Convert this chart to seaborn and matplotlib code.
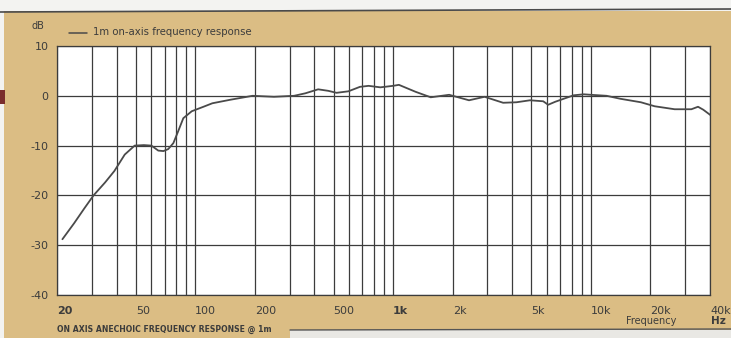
import matplotlib
matplotlib.use("Agg")
import matplotlib.pyplot as plt
from matplotlib.patches import Rectangle
from matplotlib.lines import Line2D
from matplotlib.ticker import FixedLocator, NullFormatter
import seaborn as sns
import pandas as pd
import numpy as np

# ---- data ----
freq_hz = [21.3, 24.4, 27.5, 30.6, 35, 39, 44, 49.4, 55, 60, 65, 69, 73, 77.5, 82, 87, 96,
           110, 122, 150, 195, 250, 316, 360, 418, 470, 518, 594, 680, 752, 862, 1000, 1070,
           1300, 1550, 1920, 2420, 2900, 3600, 4200, 4920, 5740, 6080, 6600, 7280, 8180,
           9200, 10000, 12000, 14100, 17900, 21000, 26500, 32200, 34800, 37000, 40600]
level_db = [-28.8, -25.6, -22.6, -20.0, -17.4, -15.1, -11.8, -10.0, -9.9, -10.0, -11.0, -11.1, -10.7, -9.5, -7.1, -4.5, -3.1,
            -2.2, -1.5, -0.8, 0.0, -0.2, 0.0, 0.5, 1.3, 1.0, 0.6, 0.9, 1.8, 2.0, 1.7, 2.0, 2.2,
            0.8, -0.3, 0.2, -0.9, -0.2, -1.4, -1.3, -0.9, -1.1, -1.8, -1.2, -0.6, 0.1,
            0.3, 0.2, 0.0, -0.6, -1.3, -2.1, -2.7, -2.7, -2.2, -2.8, -4.0]

x_tick_vals = [20, 50, 100, 200, 500, 1000, 2000, 5000, 10000, 20000, 40000]
x_tick_labels = ["20", "50", "100", "200", "500", "1k", "2k", "5k", "10k", "20k", "40k"]
y_tick_vals = [10, 0, -10, -20, -30, -40]
y_tick_labels = ["10", "0", "-10", "-20", "-30", "-40"]
series_label = "1m on-axis frequency response"

df = pd.DataFrame({"Frequency": freq_hz, "Level": level_db})

TAN = "#dbbd84"
INK = "#3c3c3c"

sns.set_style("white")
plt.rcParams["font.family"] = ["DejaVu Sans"]

W, H = 731, 338
fig = plt.figure(figsize=(W / 100, H / 100), dpi=100)
fig.patch.set_facecolor(TAN)

# scan-like border strips
fig.patches.append(Rectangle((0, 1 - 11 / H), 1, 11 / H, transform=fig.transFigure,
                             facecolor="#f3f3f1", edgecolor="none", zorder=0))
fig.lines.append(Line2D([0, 1], [1 - 12 / H, 1 - 9 / H], transform=fig.transFigure,
                        color="#4a4a4a", lw=1.2))
fig.patches.append(Rectangle((0, 0), 4 / W, 1, transform=fig.transFigure,
                             facecolor="#f3f3f1", edgecolor="none", zorder=0))
fig.patches.append(Rectangle((0, 1 - 104 / H), 5 / W, 14 / H, transform=fig.transFigure,
                             facecolor="#7a2d2d", edgecolor="none", zorder=1))
fig.patches.append(Rectangle((290 / W, 0), 1 - 290 / W, 8 / H, transform=fig.transFigure,
                             facecolor="#e9e8e4", edgecolor="none", zorder=0))
fig.lines.append(Line2D([290 / W, 1], [8 / H, 9 / H], transform=fig.transFigure,
                        color="#555555", lw=1.0))

ax = fig.add_axes([57 / W, 1 - 295 / H, (710 - 57) / W, (295 - 46) / H])
ax.set_facecolor("white")

sns.lineplot(data=df, x="Frequency", y="Level", ax=ax, color="#4a4a4a", lw=1.3,
             label=series_label, legend=False)

ax.set_xscale("log")
ax.set_xlim(20, 40000)
ax.set_ylim(-40, 10)

# grid
grid_f = []
for dec in [10, 100, 1000, 10000]:
    for d in range(1, 10):
        v = d * dec
        if 20 <= v <= 40000:
            grid_f.append(v)
ax.xaxis.set_minor_locator(FixedLocator(grid_f))
ax.xaxis.set_minor_formatter(NullFormatter())
ax.set_xticks(x_tick_vals)
ax.set_xticklabels(x_tick_labels)
ax.set_yticks(y_tick_vals)
ax.set_yticklabels(y_tick_labels)
ax.grid(True, which="both", axis="x", color=INK, lw=0.9)
ax.grid(True, which="major", axis="y", color=INK, lw=0.9)
ax.tick_params(axis="x", which="minor", length=0)
ax.tick_params(axis="x", which="major", length=3, width=0.8, color=INK, labelsize=8,
               labelcolor=INK, pad=5, direction="out")
ax.tick_params(axis="y", length=3, width=0.8, color=INK, labelsize=8, labelcolor=INK, pad=3)
for lbl in ax.get_xticklabels():
    lbl.set_ha("left")
    if lbl.get_text() in ("20", "1k"):
        lbl.set_fontweight("bold")
for s in ax.spines.values():
    s.set_color(INK)
    s.set_linewidth(0.9)
ax.set_xlabel("")
ax.set_ylabel("")

# texts
fig.text(38 / W, 1 - 26 / H, "dB", fontsize=7, color=INK, ha="center", va="center")
fig.text(651 / W, 1 - 321 / H, "Frequency", fontsize=7, color=INK, ha="center", va="center")
fig.text(718 / W, 1 - 321 / H, "Hz", fontsize=7.5, color=INK, ha="center", va="center",
         fontweight="bold")
fig.text(57 / W, 1 - 329 / H, "ON AXIS ANECHOIC FREQUENCY RESPONSE @ 1m", fontsize=5.6,
         color=INK, ha="left", va="center", fontweight="bold")

# legend
fig.lines.append(Line2D([69 / W, 87 / W], [1 - 33 / H, 1 - 33 / H], transform=fig.transFigure,
                        color="#4a4a4a", lw=1.1))
fig.text(93 / W, 1 - 32 / H, series_label, fontsize=7.3, color=INK, ha="left", va="center")

fig.savefig("out.png", dpi=100, facecolor=fig.get_facecolor())
